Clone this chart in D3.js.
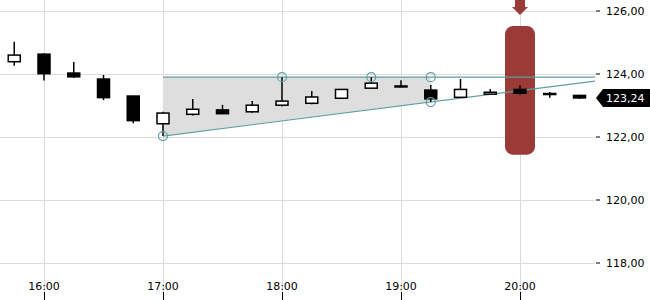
<!DOCTYPE html>
<html>
<head>
<meta charset="utf-8">
<script src="https://cdn.jsdelivr.net/npm/d3@7"></script>
<style>
  html, body { margin: 0; padding: 0; background: #fff; }
  svg { display: block; font-family: "DejaVu Sans", sans-serif; }
</style>
</head>
<body>
<svg id="chart" width="650" height="300"></svg>
<script>
// ---- data ----
const times  = ["15:45","16:00","16:15","16:30","16:45","17:00","17:15","17:30","17:45","18:00","18:15","18:30","18:45","19:00","19:15","19:30","19:45","20:00","20:15","20:30"];
const open   = [124.39,124.63,124.03,123.84,123.30,122.42,122.72,122.86,122.80,123.01,123.07,123.23,123.55,123.62,123.49,123.26,123.36,123.51,123.38,123.32];
const high   = [125.02,124.66,124.38,123.97,123.30,122.80,123.21,123.02,123.14,123.90,123.46,123.51,123.90,123.80,123.65,123.84,123.52,123.64,123.43,123.34];
const low    = [124.26,123.79,123.88,123.17,122.44,122.03,122.68,122.74,122.77,122.97,123.04,123.23,123.55,123.58,123.11,123.26,123.36,123.34,123.25,123.21];
const close  = [124.60,124.01,123.91,123.25,122.52,122.76,122.88,122.74,123.01,123.14,123.27,123.51,123.71,123.60,123.21,123.51,123.42,123.39,123.35,123.24];
const yTicks = [118,120,122,124,126];
const xTickLabels = ["16:00","17:00","18:00","19:00","20:00"];
const lastPrice = 123.24;
// trend lines
const resistanceStart = "17:00", resistanceLevel = 123.90;
const supportTimes = ["17:00","19:15"], supportValues = [122.03, 123.11];
const markerTimes  = ["17:00","18:00","18:45","19:15","19:15"];
const markerValues = [122.03, 123.90, 123.90, 123.90, 123.11];
const signalTime = "20:00", signalHigh = 125.52, signalLow = 121.44;

// ---- setup ----
const W = 650, H = 300, plotRight = 595;
const day = t => { const [h,m] = t.split(":").map(Number); return new Date(2024,0,2,h,m); };
const x = d3.scaleTime().domain([day("16:00"), day("20:00")]).range([44, 520]);
const y = d3.scaleLinear().domain([118, 126]).range([263, 11]);
const svg = d3.select("#chart");
const teal = "#5f9ea3";

// grid
svg.append("g").selectAll("line").data(yTicks).join("line")
  .attr("x1", 0).attr("x2", plotRight).attr("y1", d => y(d)).attr("y2", d => y(d))
  .attr("stroke", "#dcdcdc").attr("stroke-width", 1).attr("shape-rendering","crispEdges");
svg.append("g").selectAll("line").data(xTickLabels).join("line")
  .attr("x1", d => Math.round(x(day(d)))+0.5).attr("x2", d => Math.round(x(day(d)))+0.5)
  .attr("y1", 0).attr("y2", H)
  .attr("stroke", "#dcdcdc").attr("stroke-width", 1);

// shaded triangle
const supportLine = d3.scaleLinear().domain(supportTimes.map(t => +day(t))).range(supportValues);
const tEnd = x.invert(plotRight);
const triEnd = day("19:15");
const poly = [
  [x(day(resistanceStart)), y(resistanceLevel)],
  [x(triEnd), y(resistanceLevel)],
  [x(triEnd), y(supportLine(+triEnd))],
  [x(day(supportTimes[0])), y(supportValues[0])]
];
svg.append("path").attr("d", d3.line()(poly) + "Z").attr("fill", "#dedede");

// red signal
const sx = x(day(signalTime));
svg.append("rect")
  .attr("x", sx - 15).attr("width", 30)
  .attr("y", y(signalHigh)).attr("height", y(signalLow) - y(signalHigh))
  .attr("rx", 8).attr("ry", 8).attr("fill", "#9b3b37");
svg.append("path")
  .attr("d", `M${sx-5},0 L${sx+5},0 L${sx+5},7 L${sx+8},7 L${sx},15 L${sx-8},7 L${sx-5},7 Z`)
  .attr("fill", "#9b3b37");

// lines
svg.append("line")
  .attr("x1", x(day(resistanceStart))).attr("x2", plotRight)
  .attr("y1", y(resistanceLevel)).attr("y2", y(resistanceLevel))
  .attr("stroke", teal).attr("stroke-width", 1.2);
svg.append("line")
  .attr("x1", x(day(supportTimes[0]))).attr("x2", plotRight)
  .attr("y1", y(supportValues[0])).attr("y2", y(supportLine(+tEnd)))
  .attr("stroke", teal).attr("stroke-width", 1.2);

// candles
const data = times.map((t,i) => ({t: day(t), o: open[i], h: high[i], l: low[i], c: close[i]}));
const cw = 12;
const g = svg.append("g");
g.selectAll("line.wick").data(data).join("line")
  .attr("x1", d => x(d.t)).attr("x2", d => x(d.t))
  .attr("y1", d => y(d.h)).attr("y2", d => y(d.l))
  .attr("stroke", "#000").attr("stroke-width", 1.5);
g.selectAll("rect.body").data(data).join("rect")
  .attr("x", d => x(d.t) - cw/2).attr("width", cw)
  .attr("y", d => y(Math.max(d.o, d.c)))
  .attr("height", d => Math.max(1, Math.abs(y(d.o) - y(d.c))))
  .attr("fill", d => d.c >= d.o ? "#fff" : "#000")
  .attr("stroke", "#000").attr("stroke-width", 1.5);

// markers
svg.append("g").selectAll("circle").data(markerTimes).join("circle")
  .attr("cx", d => x(day(d))).attr("cy", (d,i) => y(markerValues[i]))
  .attr("r", 4.5).attr("fill", "none").attr("stroke", teal).attr("stroke-width", 1.2);

// y axis
const ya = svg.append("g");
ya.selectAll("line").data(yTicks).join("line")
  .attr("x1", 596).attr("x2", 600).attr("y1", d => y(d)).attr("y2", d => y(d))
  .attr("stroke", "#000").attr("stroke-width", 1);
ya.selectAll("text").data(yTicks).join("text")
  .attr("x", 606).attr("y", d => y(d)).attr("dy", "0.35em")
  .attr("font-size", 11).attr("fill", "#000")
  .text(d => d3.format(".2f")(d).replace(".", ","));

// x axis
const xa = svg.append("g");
xa.selectAll("line").data(xTickLabels).join("line")
  .attr("x1", d => Math.round(x(day(d)))+0.5).attr("x2", d => Math.round(x(day(d)))+0.5)
  .attr("y1", 292).attr("y2", 300).attr("stroke", "#000").attr("stroke-width", 1);
xa.selectAll("text").data(xTickLabels).join("text")
  .attr("x", d => x(day(d))).attr("y", 290).attr("text-anchor", "middle")
  .attr("font-size", 11).attr("fill", "#000").text(d => d);

// last price label
const ly = y(lastPrice);
svg.append("path")
  .attr("d", `M596,${ly} L603,${ly-9} L650,${ly-9} L650,${ly+9} L603,${ly+9} Z`)
  .attr("fill", "#000");
svg.append("text").attr("x", 606).attr("y", ly).attr("dy", "0.35em")
  .attr("font-size", 11).attr("fill", "#fff")
  .text(d3.format(".2f")(lastPrice).replace(".", ","));
</script>
</body>
</html>
